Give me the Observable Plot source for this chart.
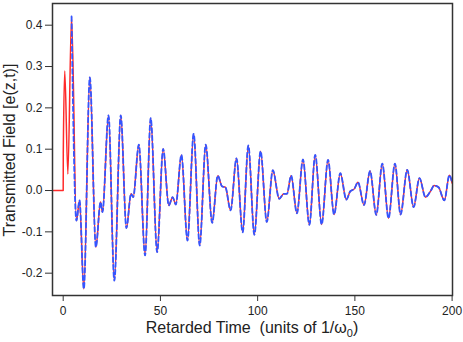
<!DOCTYPE html>
<html><head><meta charset="utf-8">
<script src="https://cdn.jsdelivr.net/npm/d3@7"></script>
<script src="https://cdn.jsdelivr.net/npm/@observablehq/plot@0.6"></script>
<style>body{margin:0;background:#fff} svg{display:block}</style>
</head><body><div id="chart"></div>
<script>
// Retarded time (units of 1/omega0) and transmitted field
const time = [-5, 0, 0.05, 0.8, 2.4, 4.3, 6.8, 8.4, 10.6, 13.7, 16.8, 19.2, 20.2, 23.3, 26.3, 29.6, 32.5, 34.9, 36.0, 38.9,
  42.1, 45.0, 48.3, 51.4, 54.3, 56.3, 57.9, 60.8, 63.9, 67.1, 70.2, 73.3, 76.6, 79.5, 81.7, 83.4, 86.1, 89.1, 92.3, 95.2,
  98.3, 101.5, 104.7, 107.8, 111.1, 113.4, 115.1, 117.2, 120.2, 123.3, 126.6, 129.6, 132.9, 136.2, 139.3, 142.5, 145.6,
  147.6, 149.7, 151.6, 154.7, 157.8, 161.0, 164.1, 167.3, 170.6, 173.5, 176.9, 180.2, 183.2, 186.3, 189.1, 190.7, 193.0,
  196.0, 198.6, 200];
const field = [0, 0, 0.09, 0.289, 0.04, 0.421, -0.073, -0.024, -0.238, 0.274, -0.137, -0.028, -0.052, 0.182, -0.218, 0.182, -0.091, -0.008, -0.016, 0.111,
  -0.157, 0.175, -0.149, 0.101, -0.036, -0.016, -0.034, 0.086, -0.121, 0.137, -0.133, 0.111, -0.078, 0.036, 0.01, 0.008, -0.048, 0.078, -0.101, 0.109,
  -0.107, 0.095, -0.076, 0.049, -0.02, -0.008, -0.008, 0.036, -0.055, 0.075, -0.083, 0.086, -0.082, 0.074, -0.058, 0.042, -0.022,
  -0.002, 0.004, 0.02, -0.035, 0.047, -0.059, 0.065, -0.067, 0.065, -0.058, 0.05, -0.04, 0.03, -0.016, 0, 0.012, 0.008,
  -0.024, 0.037, 0.018];
const dashedFrom = 4.3; // the blue dashed curve begins at the main peak
const xTicks = [0, 50, 100, 150, 200];
const yTicks = [-0.2, -0.1, 0.0, 0.1, 0.2, 0.3, 0.4];
const xLabel = "Retarded Time  (units of 1/\u03c9";
const xLabelSub = "0";
const xLabelEnd = ")";
const yLabel = "Transmitted Field [e(z,t)]";

const rows = time.map((t, i) => ({t, v: field[i]}));
const dashedRows = rows.filter(d => d.t >= dashedFrom);
const font = "'Liberation Sans', Arial, Helvetica, sans-serif";

const svg = Plot.plot({
  width: 463, height: 342,
  marginLeft: 52, marginRight: 11, marginTop: 3, marginBottom: 47,
  style: {fontFamily: font, fontSize: "12px", color: "#222", background: "#fff", overflow: "visible"},
  x: {domain: [-5.5, 200.2]},
  y: {domain: [-0.254, 0.4525]},
  marks: [
    Plot.line(rows, {x: "t", y: "v", stroke: "#ff2a2a", strokeWidth: 1.5, curve: "monotone-x"}),
    Plot.line(dashedRows, {x: "t", y: "v", stroke: "#3355ff", strokeWidth: 1.8, strokeDasharray: "4.5,3", curve: "monotone-x"}),
    Plot.frame({stroke: "#333", strokeWidth: 1.5}),
    Plot.axisX({ticks: xTicks, tickSize: 6, tickPadding: 5, label: null, stroke: "#333", tickFormat: d => String(d)}),
    Plot.axisY({ticks: yTicks, tickSize: 7, tickPadding: 3, label: null, stroke: "#333", tickFormat: d => d.toFixed(1)})
  ]
});

const s = d3.select(svg);
const xl = s.append("text")
  .attr("x", 252).attr("y", 333)
  .attr("text-anchor", "middle")
  .attr("font-family", font).attr("font-size", 16).attr("fill", "#222");
xl.append("tspan").text(xLabel);
xl.append("tspan").attr("font-size", 11).attr("dy", 4).text(xLabelSub);
xl.append("tspan").attr("dy", -4).text(xLabelEnd);

s.append("text")
  .attr("transform", "translate(15,150) rotate(-90)")
  .attr("text-anchor", "middle")
  .attr("font-family", font).attr("font-size", 16).attr("fill", "#222")
  .text(yLabel);

document.getElementById("chart").append(svg);
</script>
</body></html>
